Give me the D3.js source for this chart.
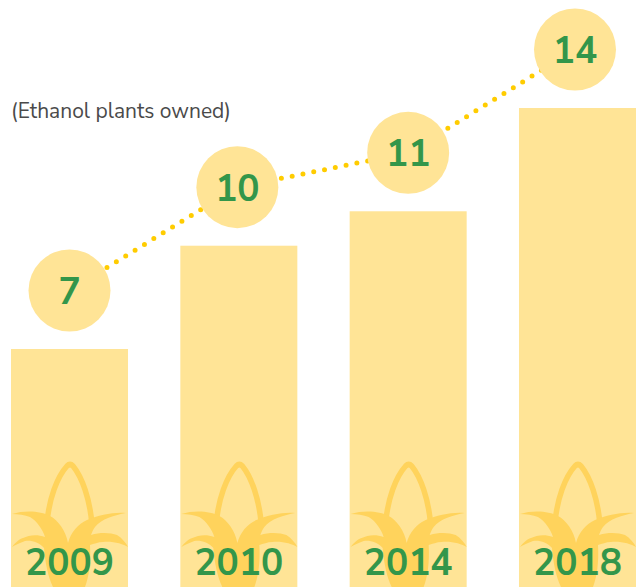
<!DOCTYPE html>
<html><head><meta charset="utf-8">
<script src="https://cdn.jsdelivr.net/npm/d3@7"></script>
<style>html,body{margin:0;padding:0;background:#fff}svg{display:block}text{font-family:"Nunito Sans",Lato,"Noto Sans",sans-serif}</style>
</head><body><div id="c"></div>
<script>
const years = ["2009","2010","2014","2018"];
const plants = [7,10,11,14];
const unitLabel = "(Ethanol plants owned)";
const W=637,H=587;
const x=d3.scaleBand().domain(years).range([11,636]).paddingInner(0.309).paddingOuter(0);
const y=d3.scaleLinear().domain([0,14]).range([590,108]);
const bubbleDx=[0,-1.5,0,-2.5];
const cx=(d,i)=>x(years[i])+x.bandwidth()/2+bubbleDx[i];
const cy=(d,i)=>y(d)-58.5;
const svg=d3.select("#c").append("svg").attr("width",W).attr("height",H);
svg.selectAll("rect.bar").data(plants).join("rect").attr("class","bar")
 .attr("x",(d,i)=>x(years[i])).attr("y",d=>y(d)).attr("width",x.bandwidth()).attr("height",d=>H-y(d)).attr("fill","#ffe496");
const stalk="M36 176 C38 152 46 130 56 119 C58 117 60 117 62 119 C71 130 79 152 81 178";
const leaves="M1 167 C14 163 30 164 39 169 C47 173 55 184 57 196 C60 185 67 177 76 173 C88 168 102 165 115 166 C104 168 90 172 84 180 C82 183 81 185 80 188 C90 185 100 186 106 188 C111 191 115 196 117 200 C112 197 102 194 92 195 C87 195 83 197 79 198 C80 215 78 230 74 240 L42 240 C37 230 34 215 33 201 C28 195 20 193 14 194 C9 196 4 198 1 200 C4 196 8 192 12 191 C18 188 26 187 34 190 C32 183 26 174 19 170 C14 168 7 167 1 167 Z";
const icons=svg.selectAll("g.icon").data(years).join("g").attr("class","icon")
 .attr("transform",d=>`translate(${x(d)},${H-240})`);
icons.append("path").attr("d",stalk).attr("fill","none").attr("stroke","#ffd35c").attr("stroke-width",5.5).attr("stroke-linecap","round");
icons.append("path").attr("d",leaves).attr("fill","#ffd35c");
svg.selectAll("text.year").data(years).join("text").attr("class","year")
 .attr("x",d=>x(d)+x.bandwidth()/2).attr("y",575).attr("text-anchor","middle")
 .attr("font-size",37).attr("font-weight",700).attr("fill","#33964a").text(d=>d);
const line=d3.line().x((d,i)=>cx(d,i)).y((d,i)=>cy(d,i));
svg.append("path").attr("d",line(plants)).attr("fill","none").attr("stroke","#ffcc00").attr("stroke-width",5).attr("stroke-linecap","round").attr("stroke-dasharray","0 11");
svg.selectAll("circle").data(plants).join("circle").attr("cx",cx).attr("cy",cy).attr("r",41).attr("fill","#ffe496");
svg.selectAll("text.val").data(plants).join("text").attr("class","val")
 .attr("x",cx).attr("y",(d,i)=>cy(d,i)+13.5).attr("text-anchor","middle")
 .attr("font-size",37).attr("font-weight",700).attr("fill","#33964a").text(d=>d);
svg.append("text").attr("x",11).attr("y",118).attr("font-size",21).attr("fill","#4a4a4a").text(unitLabel);
</script></body></html>
